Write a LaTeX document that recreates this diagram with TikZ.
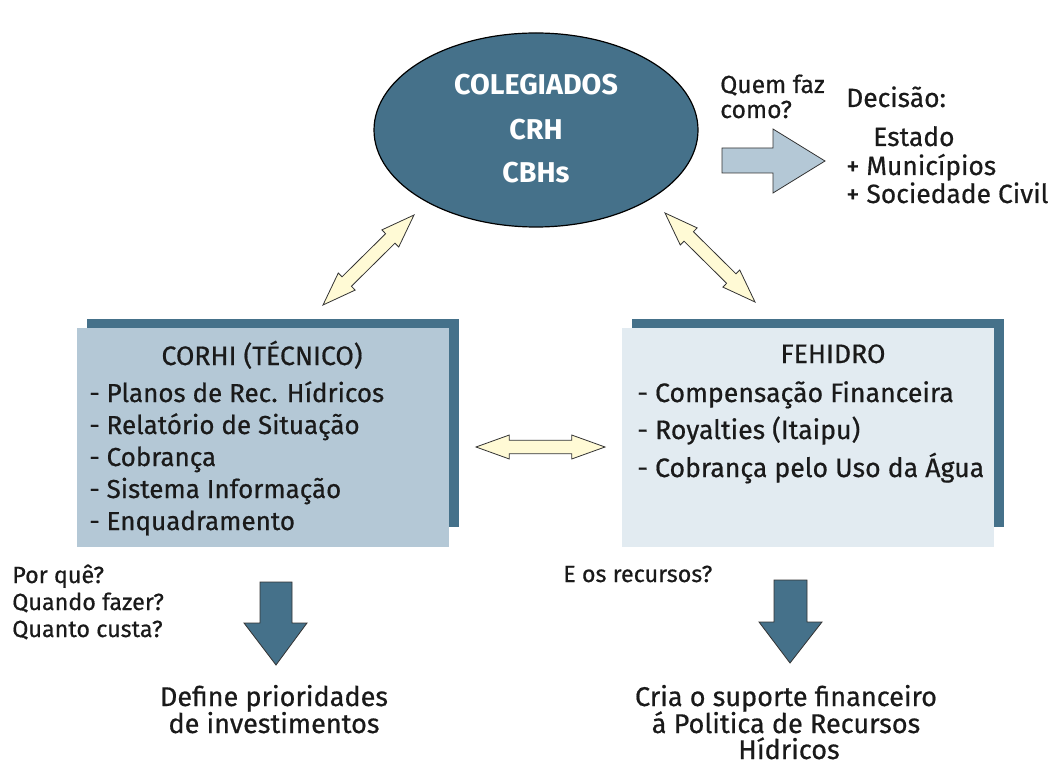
\documentclass[tikz,border=0pt]{standalone}
\usepackage{fontspec}
\setmainfont{Fira Sans}[UprightFeatures={FakeBold=0.6}]
\usetikzlibrary{calc,shapes.geometric}
\definecolor{dteal}{HTML}{45718A}
\definecolor{lblue}{HTML}{B4C8D6}
\definecolor{pale}{HTML}{E2EBF1}
\definecolor{cream}{HTML}{FFFAD5}
\definecolor{txt}{HTML}{1A1A1A}
\definecolor{edge}{HTML}{333333}
\tikzset{
  ellbox/.style={ellipse, draw=black, line width=0.9pt, fill=dteal, minimum width=243pt, minimum height=145.5pt},
  elltxt/.style={anchor=base, text=white, inner sep=0, font=\bfseries\fontsize{21.5}{25}\selectfont},
  shadowfill/.style={fill=dteal},
  boxtxt/.style={anchor=base west, text=txt, inner sep=0, font=\fontsize{19.5}{23}\selectfont},
  boxtxtb/.style={anchor=base west, text=txt, inner sep=0, font=\fontsize{20}{23}\selectfont},
  boxtitle/.style={anchor=base, text=txt, inner sep=0, font=\fontsize{20}{23}\selectfont},
  sidetxt/.style={anchor=base west, text=txt, inner sep=0, font=\fontsize{18.5}{22}\selectfont},
  dectxt/.style={anchor=base west, text=txt, inner sep=0, font=\fontsize{19.8}{22}\selectfont},
  smalltxt/.style={anchor=base west, text=txt, inner sep=0, font=\fontsize{17.5}{21}\selectfont},
  bottxt/.style={anchor=base, text=txt, inner sep=0, font=\fontsize{20.3}{24}\selectfont},
  dbl/.style={fill=cream, draw=edge, line width=0.6pt, line join=miter},
  bigarrow/.style={draw=edge, line width=0.6pt, line join=miter}
}
\newcommand\dblarr[2]{%
  \path ($(#1)!25pt!(#2)$) coordinate (ha) ($(#2)!25pt!(#1)$) coordinate (hb);
  \draw[dbl] (#1) -- ($(ha)!9pt!90:(#2)$) -- ($(ha)!5pt!90:(#2)$) -- ($(hb)!5pt!-90:(#1)$) -- ($(hb)!9pt!-90:(#1)$) -- (#2) -- ($(hb)!9pt!90:(#1)$) -- ($(hb)!5pt!90:(#1)$) -- ($(ha)!5pt!-90:(#2)$) -- ($(ha)!9pt!-90:(#2)$) -- cycle;}
\begin{document}
\begin{tikzpicture}[x=0.75pt,y=-0.75pt]
\useasboundingbox (0,0) rectangle (1059,766);

% ellipse
\node[ellbox] (col) at (536,130) {};
\node[elltxt] (t1) at (536,95) {COLEGIADOS};
\node[elltxt] (t2) at (536,140) {CRH};
\node[elltxt] (t3) at (536,183) {CBHs};

% right arrow + decision
\node[sidetxt] (q1) at (720,93) {Quem faz};
\node[sidetxt] (q2) at (720,118) {como?};
\draw[bigarrow, fill=lblue] (722,148) -- (773,148) -- (773,129) -- (825,161) -- (773,193) -- (773,173) -- (722,173) -- cycle;
\node[dectxt] (d0) at (846,107) {Decisão:};
\node[dectxt] (d1) at (873,146) {Estado};
\node[dectxt] (d2) at (846,175) {+ Municípios};
\node[dectxt] (d3) at (846,203) {+ Sociedade Civil};

% left box
\fill[shadowfill] (87,319) rectangle (459,527);
\fill[lblue] (77,328) rectangle (449,547);
\node[boxtitle] (c0) at (262,365) {CORHI (TÉCNICO)};
\node[boxtxt] (c1) at (89,402) {- Planos de Rec. Hídricos};
\node[boxtxt] (c2) at (89,434) {- Relatório de Situação};
\node[boxtxt] (c3) at (89,466) {- Cobrança};
\node[boxtxt] (c4) at (89,498) {- Sistema Informação};
\node[boxtxt] (c5) at (89,530) {- Enquadramento};

% right box
\fill[shadowfill] (632,319) rectangle (1004,527);
\fill[pale] (622,328) rectangle (994,547);
\node[boxtitle] (f0) at (833,363) {FEHIDRO};
\node[boxtxtb] (f1) at (637,402) {- Compensação Financeira};
\node[boxtxtb] (f2) at (637,439) {- Royalties (Itaipu)};
\node[boxtxtb] (f3) at (637,477) {- Cobrança pelo Uso da Água};

% double arrows
\coordinate (la) at (323,305); \coordinate (lb) at (414,215);
\coordinate (ra) at (665,213); \coordinate (rb) at (755,302);
\coordinate (ma) at (476,447); \coordinate (mb) at (605,447);
\dblarr{la}{lb}
\dblarr{ra}{rb}
\dblarr{ma}{mb}

% bottom left
\node[smalltxt] (p1) at (12,583) {Por quê?};
\node[smalltxt] (p2) at (12,610) {Quando fazer?};
\node[smalltxt] (p3) at (12,637) {Quanto custa?};
\draw[bigarrow, fill=dteal] (260,582) -- (292,582) -- (292,623) -- (307,623) -- (276,665) -- (244,623) -- (260,623) -- cycle;
\node[bottxt] (b1) at (274,706) {Define prioridades};
\node[bottxt] (b2) at (274,733) {de investimentos};

% bottom right
\node[smalltxt] (e1) at (563,582) {E os recursos?};
\draw[bigarrow, fill=dteal] (774,580) -- (807,580) -- (807,622) -- (822,622) -- (790,663) -- (759,622) -- (774,622) -- cycle;
\node[bottxt] (r1) at (786,706) {Cria o suporte financeiro};
\node[bottxt] (r2) at (786,733) {á Politica de Recursos};
\node[bottxt] (r3) at (789,759) {Hídricos};
\end{tikzpicture}
\end{document}
